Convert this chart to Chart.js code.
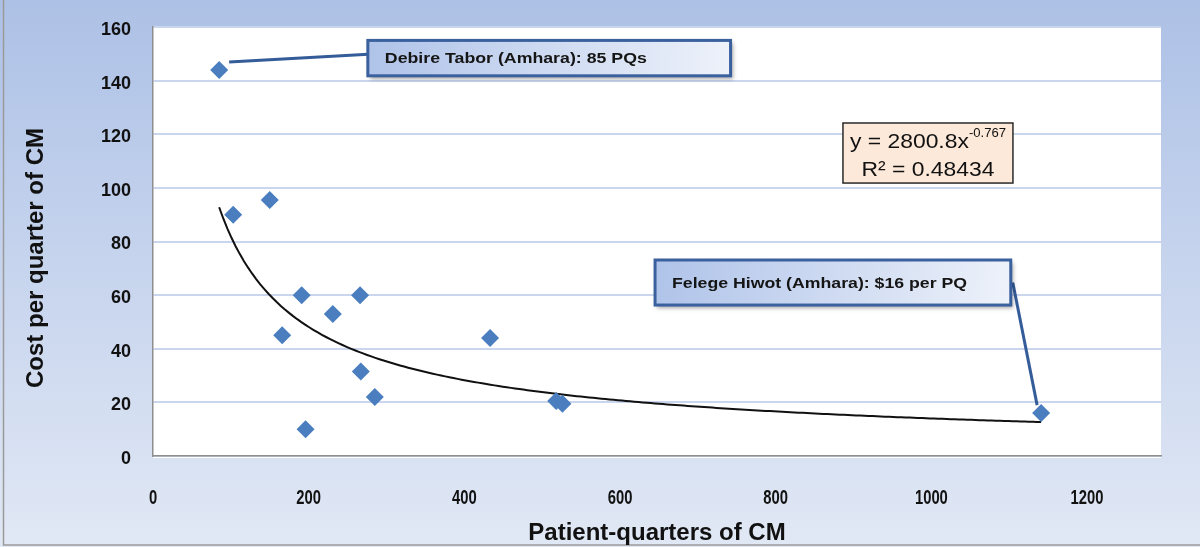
<!DOCTYPE html>
<html><head><meta charset="utf-8">
<script src="https://cdn.jsdelivr.net/npm/chart.js@4/dist/chart.umd.min.js"></script>
<style>html,body{margin:0;padding:0;background:#fff}#wrap{width:1200px;height:547px;position:relative}</style>
</head><body><div id="wrap"><canvas id="c" width="1200" height="547"></canvas></div>
<script>
// ---- data ----
const patientQuarters = [85, 103, 150, 191, 266, 231, 166, 267, 285, 196, 433, 518, 526, 1141];
const costPerQuarter  = [144, 90, 95.5, 60, 60, 53, 45, 31.5, 22, 10, 44, 20.5, 19.5, 16];
const xTickValues = [0, 200, 400, 600, 800, 1000, 1200];
const yTickValues = [0, 20, 40, 60, 80, 100, 120, 140, 160];
const trendCoef = 2800.8;
const trendExp = -0.767;
const trendR2 = 0.48434;
const xTitle = 'Patient-quarters of CM';
const yTitle = 'Cost per quarter of CM';
const calloutTexts = ['Debire Tabor (Amhara): 85 PQs', 'Felege Hiwot (Amhara): $16 per PQ'];
const calloutPointIndex = [0, 13];

// ---- derived ----
const points = patientQuarters.map((x, i) => ({x: x, y: costPerQuarter[i]}));
const xMinData = Math.min(...patientQuarters), xMaxData = Math.max(...patientQuarters);
const trendPoints = [];
for (let i = 0; i <= 200; i++) {
  const x = xMinData + (xMaxData - xMinData) * i / 200;
  trendPoints.push({x: x, y: trendCoef * Math.pow(x, trendExp)});
}

const FONT = '"Liberation Sans", Arial, Helvetica, sans-serif';

const calloutLayout = [
  {box: [276, 155, 742, 141.8], side: 'left', ptOff: [10, -8], boxOff: [5, -4], textW: 262},
  {box: [645, 73.1, 1102, 56.3], side: 'right', ptOff: [-4, -8], boxOff: [2, 0], textW: 295}
];
const eqLayout = {box: [886.4, 124.2, 1104.8, 101.8]};

const bgPlugin = {
  id: 'bg',
  beforeDraw(chart) {
    const c = chart.ctx, a = chart.chartArea, W = chart.width, H = chart.height;
    c.save();
    const g = c.createLinearGradient(0, 0, 0, H);
    g.addColorStop(0, '#adc1e6');
    g.addColorStop(1, '#e1e8f5');
    c.fillStyle = g;
    c.fillRect(0, 0, W, H);
    c.strokeStyle = '#9a9a9a';
    c.lineWidth = 1.5;
    c.beginPath();
    c.moveTo(3.5, 0); c.lineTo(3.5, H - 2); c.lineTo(W, H - 2);
    c.stroke();
    c.fillStyle = '#ffffff';
    c.fillRect(a.left, a.top, a.right - a.left, a.bottom - a.top + 2);
    c.restore();
  },
  afterDraw(chart) {
    const c = chart.ctx, a = chart.chartArea, xs = chart.scales.x;
    c.save();
    c.fillStyle = '#111';
    c.font = 'bold 20px ' + FONT;
    c.textAlign = 'center';
    c.textBaseline = 'middle';
    xs.ticks.forEach(t => {
      c.save();
      c.translate(xs.getPixelForValue(t.value), 498);
      c.scale(0.74, 1);
      c.fillText(String(t.value), 0, 0);
      c.restore();
    });
    c.font = 'bold 24px ' + FONT;
    c.fillText(xTitle, (a.left + a.right) / 2, 533);
    c.translate(36, 258);
    c.rotate(-Math.PI / 2);
    c.fillText(yTitle, 0, 0);
    c.restore();
  }
};

function shadowBox(c, x, y, w, h) {
  c.save();
  c.shadowColor = 'rgba(0,0,0,0.35)';
  c.shadowBlur = 4;
  c.shadowOffsetX = 2;
  c.shadowOffsetY = 3;
  c.fillStyle = '#ffffff';
  c.fillRect(x, y, w, h);
  c.restore();
}

const annotPlugin = {
  id: 'annot',
  afterDatasetsDraw(chart) {
    const c = chart.ctx, xs = chart.scales.x, ys = chart.scales.y;
    c.save();
    calloutLayout.forEach((L, k) => {
      const bx0 = xs.getPixelForValue(L.box[0]), by0 = ys.getPixelForValue(L.box[1]);
      const bx1 = xs.getPixelForValue(L.box[2]), by1 = ys.getPixelForValue(L.box[3]);
      const pi = calloutPointIndex[k];
      const px = xs.getPixelForValue(patientQuarters[pi]), py = ys.getPixelForValue(costPerQuarter[pi]);
      const sx = px + L.ptOff[0], sy = py + L.ptOff[1];
      const ex = (L.side === 'left' ? bx0 : bx1) + L.boxOff[0];
      const ey = (by0 + by1) / 2 + L.boxOff[1];
      c.strokeStyle = '#335c99';
      c.lineWidth = 3;
      c.beginPath(); c.moveTo(sx, sy); c.lineTo(ex, ey); c.stroke();
      shadowBox(c, bx0, by0, bx1 - bx0, by1 - by0);
      const g = c.createLinearGradient(bx0, by0, bx1, by1);
      g.addColorStop(0, '#afc3e9');
      g.addColorStop(1, '#eef2fa');
      c.fillStyle = g;
      c.fillRect(bx0, by0, bx1 - bx0, by1 - by0);
      c.strokeStyle = '#3a609e';
      c.lineWidth = 3;
      c.strokeRect(bx0, by0, bx1 - bx0, by1 - by0);
      c.fillStyle = '#151515';
      c.font = 'bold 15px ' + FONT;
      const tw = c.measureText(calloutTexts[k]).width;
      c.save();
      c.translate(bx0 + 17, (by0 + by1) / 2 + 1);
      c.scale(L.textW / tw, 1);
      c.textAlign = 'left';
      c.textBaseline = 'middle';
      c.fillText(calloutTexts[k], 0, 0);
      c.restore();
    });
    const E = eqLayout.box;
    const ex0 = xs.getPixelForValue(E[0]), ey0 = ys.getPixelForValue(E[1]);
    const ex1 = xs.getPixelForValue(E[2]), ey1 = ys.getPixelForValue(E[3]);
    c.fillStyle = '#fde9da';
    c.fillRect(ex0, ey0, ex1 - ex0, ey1 - ey0);
    c.strokeStyle = '#2a2a2a';
    c.lineWidth = 1.5;
    c.strokeRect(ex0, ey0, ex1 - ex0, ey1 - ey0);
    const cx = (ex0 + ex1) / 2;
    const main = 'y = ' + trendCoef + 'x';
    const sup = String(trendExp);
    c.font = '21px ' + FONT;
    const wMain = c.measureText(main).width;
    c.font = '12px ' + FONT;
    const wSup = c.measureText(sup).width;
    const sx = 156 / (wMain + wSup);
    c.fillStyle = '#111';
    c.textBaseline = 'alphabetic';
    c.textAlign = 'left';
    c.save();
    c.translate(cx - 78, 0);
    c.scale(sx, 1);
    c.font = '21px ' + FONT;
    c.fillText(main, 0, ey0 + 25);
    c.font = '12px ' + FONT;
    c.fillText(sup, wMain, ey0 + 14);
    c.restore();
    c.save();
    c.font = '21px ' + FONT;
    c.translate(cx, 0);
    c.scale(sx, 1);
    c.textAlign = 'center';
    c.fillText('R\u00b2 = ' + trendR2, 0, ey0 + 53);
    c.restore();
    c.restore();
  }
};

new Chart(document.getElementById('c'), {
  type: 'scatter',
  data: {
    datasets: [
      {label: 'Cost per quarter', data: points, pointStyle: 'rectRot', pointRadius: 9, pointHoverRadius: 9,
       backgroundColor: '#4a7ebf', borderColor: '#4a7ebf', borderWidth: 0, order: 0},
      {type: 'line', label: 'Power trend', data: trendPoints, showLine: true, pointRadius: 0,
       borderColor: '#111111', borderWidth: 2, fill: false, tension: 0, order: 1}
    ]
  },
  options: {
    responsive: false, animation: false, devicePixelRatio: 1,
    layout: {padding: {left: 0, right: 39, top: 27, bottom: 0}},
    plugins: {legend: {display: false}, tooltip: {enabled: false}},
    scales: {
      x: {
        type: 'linear', min: 0, max: 1295,
        afterBuildTicks: s => { s.ticks = xTickValues.map(v => ({value: v})); },
        afterFit: s => { s.height = 91; s.paddingLeft = 0; s.paddingRight = 0; },
        grid: {display: false, drawTicks: false},
        border: {display: true, color: '#8e8e8e', width: 1.5},
        ticks: {display: false}
      },
      y: {
        type: 'linear', min: 0, max: 160,
        afterBuildTicks: s => { s.ticks = yTickValues.map(v => ({value: v})); },
        afterFit: s => { s.width = 153; s.paddingTop = 0; s.paddingBottom = 0; },
        grid: {color: '#c9d6ee', lineWidth: 2, drawTicks: false},
        border: {display: true, color: '#8e8e8e', width: 1.5},
        ticks: {padding: 22, labelOffset: 3, color: '#111', font: {family: FONT, weight: 'bold', size: 18},
                callback: v => String(v)}
      }
    }
  },
  plugins: [bgPlugin, annotPlugin]
});
</script>
</body></html>
